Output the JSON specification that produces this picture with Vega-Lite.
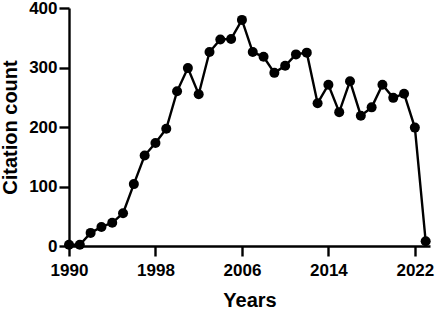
{
  "$schema": "https://vega.github.io/schema/vega-lite/v6.json",
  "width": 361,
  "height": 238,
  "autosize": {"type": "none"},
  "padding": {"left": 69, "top": 8, "right": 6, "bottom": 64},
  "background": "white",
  "config": {
    "view": {"stroke": null},
    "font": "Liberation Sans",
    "axis": {
      "domainColor": "black", "domainWidth": 2.4, "tickColor": "black", "tickWidth": 2.4,
      "tickSize": 10, "labelColor": "black", "labelFont": "Liberation Sans", "labelFontWeight": "bold",
      "labelFontSize": 17, "labelFlush": false, "labelOverlap": false,
      "titleFont": "Liberation Sans", "titleFontWeight": "bold",
      "titleFontSize": 20, "titleColor": "black", "grid": false
    }
  },
  "data": {"values": [
    {"year": 1990, "count": 2}, {"year": 1991, "count": 2}, {"year": 1992, "count": 22},
    {"year": 1993, "count": 32}, {"year": 1994, "count": 39}, {"year": 1995, "count": 55},
    {"year": 1996, "count": 104}, {"year": 1997, "count": 152}, {"year": 1998, "count": 173},
    {"year": 1999, "count": 197}, {"year": 2000, "count": 260}, {"year": 2001, "count": 299},
    {"year": 2002, "count": 255}, {"year": 2003, "count": 326}, {"year": 2004, "count": 347},
    {"year": 2005, "count": 348}, {"year": 2006, "count": 380}, {"year": 2007, "count": 326},
    {"year": 2008, "count": 318}, {"year": 2009, "count": 291}, {"year": 2010, "count": 303},
    {"year": 2011, "count": 322}, {"year": 2012, "count": 325}, {"year": 2013, "count": 240},
    {"year": 2014, "count": 271}, {"year": 2015, "count": 225}, {"year": 2016, "count": 277},
    {"year": 2017, "count": 219}, {"year": 2018, "count": 233}, {"year": 2019, "count": 271},
    {"year": 2020, "count": 249}, {"year": 2021, "count": 256}, {"year": 2022, "count": 199},
    {"year": 2023, "count": 8}
  ]},
  "encoding": {
    "x": {"field": "year", "type": "quantitative",
      "scale": {"domain": [1990, 2023.4], "nice": false, "zero": false},
      "axis": {"values": [1990, 1998, 2006, 2014, 2022], "format": "d", "title": "Years",
        "labelPadding": 6, "titlePadding": 12}},
    "y": {"field": "count", "type": "quantitative",
      "scale": {"domain": [0, 400], "nice": false},
      "axis": {"values": [0, 100, 200, 300, 400], "title": "Citation count",
        "labelPadding": 2, "titlePadding": 8}}
  },
  "layer": [
    {"mark": {"type": "line", "color": "black", "strokeWidth": 2.4, "clip": false}},
    {"mark": {"type": "point", "filled": true, "color": "black", "opacity": 1, "size": 100, "clip": false}}
  ]
}
